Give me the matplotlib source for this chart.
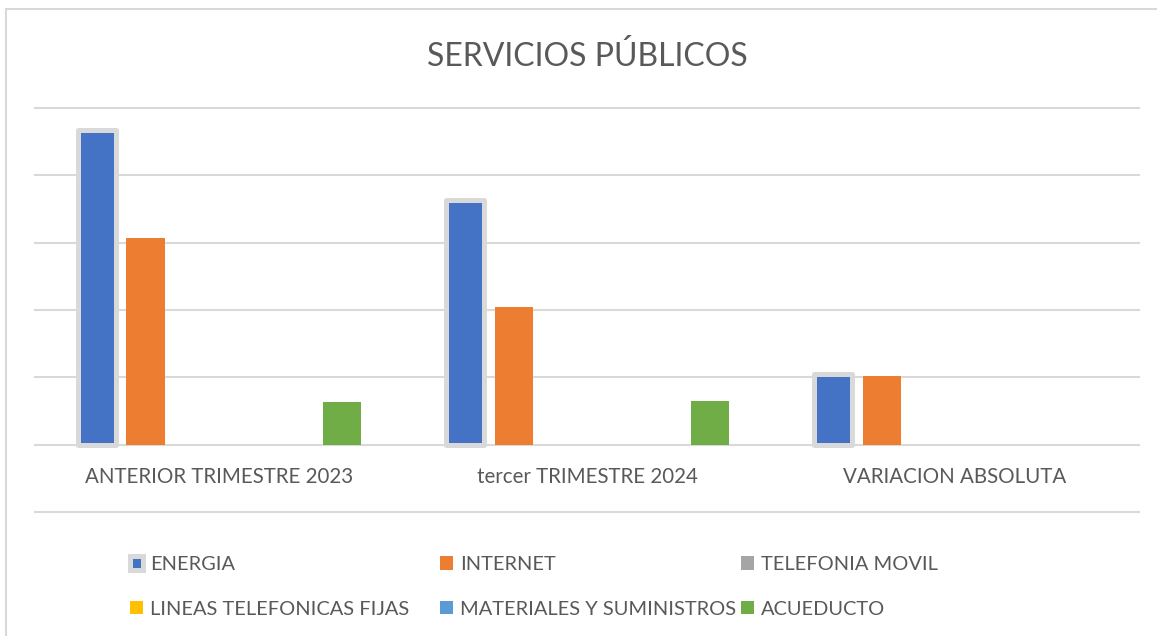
import matplotlib.pyplot as plt
import numpy as np
from matplotlib.patches import Rectangle

categories = ['ANTERIOR TRIMESTRE 2023', 'tercer TRIMESTRE 2024', 'VARIACION ABSOLUTA']
series = ['ENERGIA', 'INTERNET', 'TELEFONIA MOVIL',
          'LINEAS TELEFONICAS FIJAS', 'MATERIALES Y SUMINISTROS', 'ACUEDUCTO']
energia = [4.68, 3.63, 1.05]
internet = [3.07, 2.04, 1.02]
telefonia_movil = [0, 0, 0]
lineas_fijas = [0, 0, 0]
materiales = [0, 0, 0]
acueducto = [0.63, 0.65, -0.01]
colors = ['#4472C4', '#ED7D31', '#A5A5A5', '#FFC000', '#5B9BD5', '#70AD47']

GREY = '#595959'
GRID = '#D9D9D9'
plt.rcParams['font.family'] = ['Lato', 'DejaVu Sans']

fig = plt.figure(figsize=(11.57, 6.36), dpi=100)
W, H = 1157, 636
ax = fig.add_axes([35 / W, 1 - 512 / H, (1139 - 35) / W, (512 - 108) / H])

values = [energia, internet, telefonia_movil, lineas_fijas, materiales, acueducto]
x = np.arange(len(categories))
slot = 49 / 368
width = 38 / 368
handles = []
for i, (name, vals, c) in enumerate(zip(series, values, colors)):
    if i == 0:
        b = ax.bar(x + (i - 2.5) * slot, vals, width, color=c, label=name,
                   edgecolor=GRID, linewidth=3.6, joinstyle='round', zorder=3)
    else:
        b = ax.bar(x + (i - 2.5) * slot, vals, width, color=c, label=name,
                   linewidth=0, zorder=3)
    handles.append(b)

ax.set_xlim(-0.5, 2.5)
ax.set_ylim(-1, 5)
ax.set_yticks(range(-1, 6))
ax.tick_params(axis='y', length=0, labelleft=False)
ax.grid(axis='y', color=GRID, linewidth=1.5)
for gl in ax.get_ygridlines():
    gl.set_clip_on(False)
ax.set_axisbelow(True)
for s in ax.spines.values():
    s.set_color('none')
ax.spines['bottom'].set_position(('data', 0))
ax.set_xticks(x)
ax.set_xticklabels(categories, fontsize=14.8, color=GREY)
ax.tick_params(axis='x', length=0, pad=16)

fig.text((35 + 1139) / 2 / W, 1 - 57 / H, 'SERVICIOS PÚBLICOS', ha='center', va='center',
         fontsize=23, color=GREY)

# legend: three equal-width columns, filled row by row like Excel
col_x = [130, 440, 741]
for k in range(3):
    fig.legend([handles[k], handles[k + 3]], [series[k], series[k + 3]],
               loc='upper left', bbox_to_anchor=(col_x[k] / W, 1 - 556 / H),
               frameon=False, fontsize=14.4, borderpad=0, borderaxespad=0,
               handlelength=0.65, handleheight=0.65, handletextpad=0.35,
               labelspacing=1.38, labelcolor=GREY)

fig.patches.append(Rectangle((6 / W, -0.1), 1.2, 1 - 9 / H + 0.1, transform=fig.transFigure,
                             fill=False, edgecolor=GRID, linewidth=1.5))

fig.savefig('out.png', dpi=100)
